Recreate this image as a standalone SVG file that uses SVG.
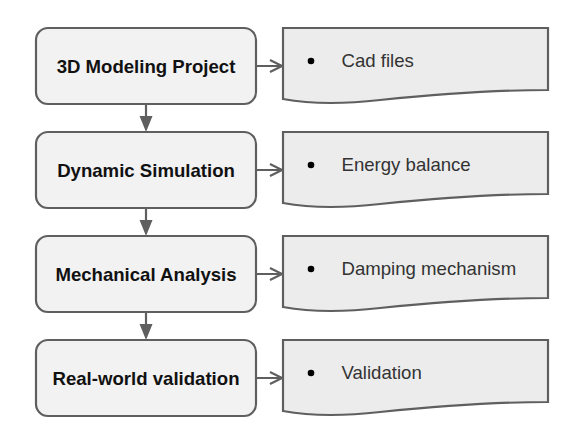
<svg xmlns="http://www.w3.org/2000/svg" width="578" height="440" viewBox="0 0 578 440">
<style>
.box{fill:#f2f2f2;stroke:#5f5f5f;stroke-width:2.2}
.doc{fill:#ececec;stroke:#5f5f5f;stroke-width:2.2}
.t{font-family:"Liberation Sans",Arial,sans-serif;font-weight:bold;font-size:18.6px;fill:#111;text-anchor:middle}
.d{font-family:"Liberation Sans",Arial,sans-serif;font-size:18.6px;fill:#333}
.c{fill:none;stroke:#5f5f5f;stroke-width:2.2}
.h{fill:#5f5f5f}
</style>
<defs>
<path id="docshape" d="M283,28 H548 V90 C480,90 420,96 380,100 C345,104 310,104 283,99 Z"/>
</defs>
<g id="connectors">
<line class="c" x1="146" y1="104" x2="146" y2="118"/>
<polygon class="h" points="139.5,116 152.5,116 146,132"/>
<line class="c" x1="146" y1="208" x2="146" y2="222"/>
<polygon class="h" points="139.5,220 152.5,220 146,236"/>
<line class="c" x1="146" y1="312" x2="146" y2="326"/>
<polygon class="h" points="139.5,324 152.5,324 146,340"/>
<g class="c">
<path d="M256,66 H282 M270,60 L282,66 L270,72"/>
<path d="M256,170 H282 M270,164 L282,170 L270,176"/>
<path d="M256,274 H282 M270,268 L282,274 L270,280"/>
<path d="M256,378 H282 M270,372 L282,378 L270,384"/>
</g>
</g>
<g id="n1"><rect class="box" x="36" y="28" width="220" height="76" rx="12"/><text class="t" x="146" y="72.5">3D Modeling Project</text></g>
<g id="n2"><rect class="box" x="36" y="132" width="220" height="76" rx="12"/><text class="t" x="146" y="176.5">Dynamic Simulation</text></g>
<g id="n3"><rect class="box" x="36" y="236" width="220" height="76" rx="12"/><text class="t" x="146" y="280.5">Mechanical Analysis</text></g>
<g id="n4"><rect class="box" x="36" y="340" width="220" height="76" rx="12"/><text class="t" x="146" y="384.5">Real-world validation</text></g>
<g id="d1"><use href="#docshape" class="doc"/><circle cx="311" cy="61" r="3.3" fill="#000"/><text class="d" x="341.5" y="67">Cad files</text></g>
<g id="d2"><use href="#docshape" class="doc" y="104"/><circle cx="311" cy="165" r="3.3" fill="#000"/><text class="d" x="341.5" y="171">Energy balance</text></g>
<g id="d3"><use href="#docshape" class="doc" y="208"/><circle cx="311" cy="269" r="3.3" fill="#000"/><text class="d" x="341.5" y="275">Damping mechanism</text></g>
<g id="d4"><use href="#docshape" class="doc" y="312"/><circle cx="311" cy="373" r="3.3" fill="#000"/><text class="d" x="341.5" y="379">Validation</text></g>
</svg>
